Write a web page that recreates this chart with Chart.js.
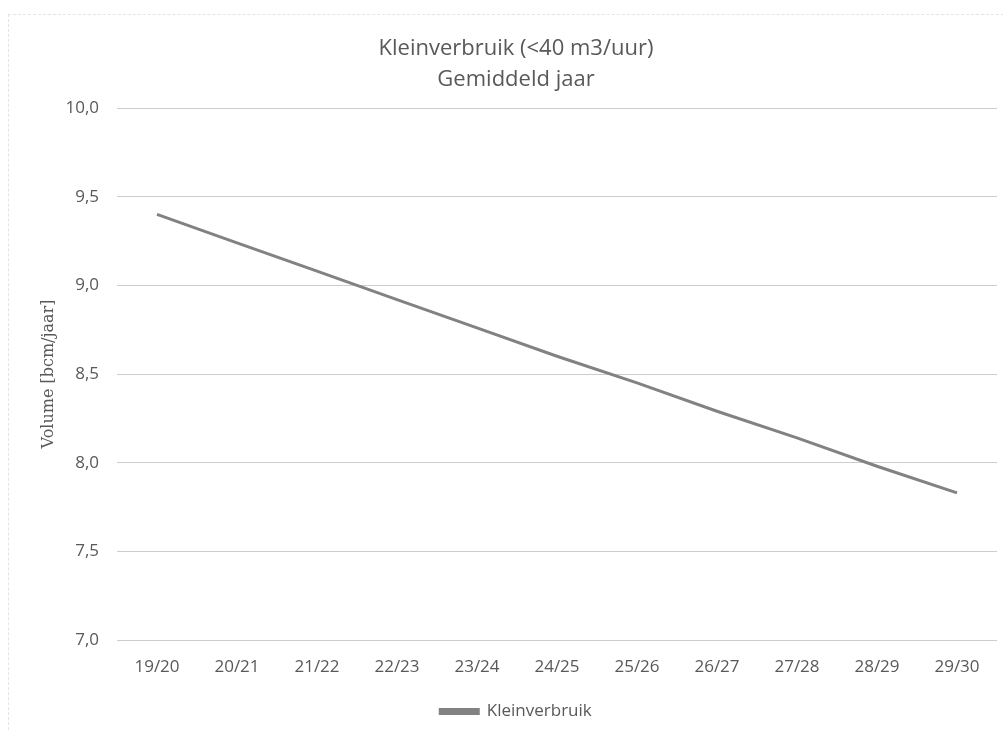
<!DOCTYPE html>
<html>
<head>
<meta charset="utf-8">
<script src="https://cdn.jsdelivr.net/npm/chart.js@4/dist/chart.umd.min.js"></script>
<style>
  html, body { margin: 0; padding: 0; background: #fff; }
  #wrap { position: relative; width: 1003px; height: 732px; }
  #frame { position: absolute; left: 8px; top: 14px; width: 1000px; height: 740px; border-left: 1px dashed #e4e4e4; border-top: 1px dashed #e4e4e4; pointer-events: none; }
</style>
</head>
<body>
<div id="wrap">
  <canvas id="c" width="1003" height="732"></canvas>
  <div id="frame"></div>
</div>
<script>
const categories = ["19/20","20/21","21/22","22/23","23/24","24/25","25/26","26/27","27/28","28/29","29/30"];
const kleinverbruik = [9.40, 9.24, 9.08, 8.92, 8.76, 8.60, 8.45, 8.29, 8.14, 7.98, 7.83];
const titleLines = ["Kleinverbruik (<40 m3/uur)", "Gemiddeld jaar"];
const yTitle = "Volume [bcm/jaar]";
const seriesName = "Kleinverbruik";

const gray = "#595959";
new Chart(document.getElementById("c"), {
  type: "line",
  data: {
    labels: categories,
    datasets: [{
      label: seriesName,
      data: kleinverbruik,
      borderColor: "#828282",
      backgroundColor: "#828282",
      borderWidth: 3,
      pointRadius: 0,
      tension: 0
    }]
  },
  options: {
    responsive: false,
    animation: false,
    layout: { padding: { top: 14, right: 6, left: 35, bottom: 2 } },
    plugins: {
      title: {
        display: true,
        text: titleLines,
        color: gray,
        font: { family: "Open Sans", size: 22, weight: "normal", lineHeight: 1.41 },
        padding: { top: 19.5, bottom: 12.5 }
      },
      legend: {
        position: "bottom",
        labels: {
          color: gray,
          font: { family: "Open Sans", size: 17 },
          boxWidth: 38,
          boxHeight: 4,
          padding: 6
        }
      },
      tooltip: { enabled: false }
    },
    scales: {
      x: {
        offset: true,
        grid: { display: false },
        border: { display: false },
        ticks: { color: gray, font: { family: "Open Sans", size: 17 }, padding: 8.5, maxRotation: 0 },
        afterFit: s => { s.height = 57; }
      },
      y: {
        min: 7, max: 10,
        border: { display: false },
        grid: { color: "#cdcdcd", lineWidth: 1, drawTicks: false },
        ticks: {
          stepSize: 0.5,
          color: gray,
          padding: 18,
          font: { family: "Open Sans", size: 17 },
          callback: v => v.toFixed(1).replace(".", ",")
        },
        title: {
          display: true,
          text: yTitle,
          color: gray,
          font: { family: "DejaVu Serif", size: 16 },
          padding: { top: 4, bottom: 4 }
        },
        afterFit: s => { s.width = 82; }
      }
    }
  }
});
</script>
</body>
</html>
